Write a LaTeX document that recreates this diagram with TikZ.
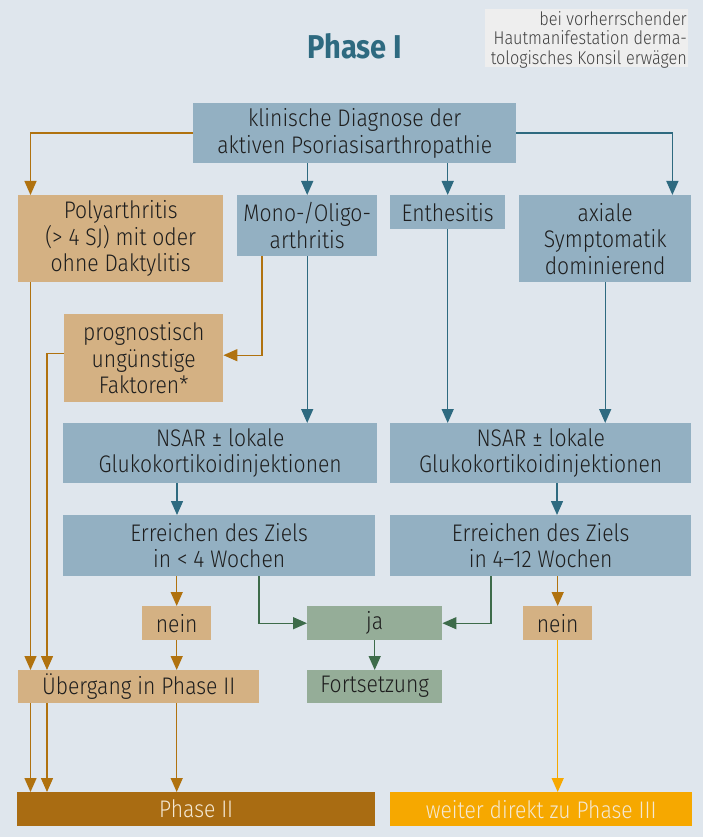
\documentclass[tikz,border=0pt]{standalone}
\usepackage{fontspec}
\setmainfont{Fira Sans}[UprightFont=* Light, BoldFont=* Bold, FakeStretch=0.88]
\usetikzlibrary{arrows.meta}

\definecolor{bgblue}{HTML}{DFE6ED}
\definecolor{boxblue}{HTML}{93B0C2}
\definecolor{boxtan}{HTML}{D4B183}
\definecolor{boxgreen}{HTML}{95AD98}
\definecolor{notegrey}{HTML}{EEEEEE}
\definecolor{textdark}{HTML}{1E1E1E}
\definecolor{tealline}{HTML}{2E6A80}
\definecolor{ochreline}{HTML}{B0720F}
\definecolor{greenline}{HTML}{3D6B4A}
\definecolor{phasetwo}{HTML}{A96C12}
\definecolor{phasethree}{HTML}{F6A800}
\definecolor{lighttext}{HTML}{F4E8D2}

\tikzset{
  box/.style={anchor=north west, inner sep=0pt, align=center, text=textdark,
    font=\fontsize{24}{26.5}\selectfont},
  bluebox/.style={box, fill=boxblue},
  tanbox/.style={box, fill=boxtan},
  greenbox/.style={box, fill=boxgreen},
  conn/.style={line width=1.4pt, -{Triangle[width=12pt,length=14pt]}},
  tealarr/.style={conn, draw=tealline},
  ochrearr/.style={conn, draw=ochreline},
  greenarr/.style={conn, draw=greenline},
  yellowarr/.style={conn, draw=phasethree}
}

\begin{document}
\begin{tikzpicture}[x=1pt,y=-1pt]
\useasboundingbox (0,0) rectangle (703,837);
\fill[bgblue] (0,0) rectangle (703,837);

% title and note
\node[font=\fontsize{33}{36}\selectfont\bfseries, text=tealline] (title) at (355,46) {Phase I};
\node[anchor=north west, fill=notegrey, minimum width=203pt, minimum height=58pt,
  inner sep=0pt] (notebox) at (485,9) {};
\node[anchor=north east, align=right, inner sep=0pt, text=textdark!85,
  font=\fontsize{18.5}{19.5}\selectfont] (note) at (687,11)
  {bei vorherrschender\\Hautmanifestation derma-\\tologisches Konsil erwägen};

% boxes
\node[bluebox, minimum width=323pt, minimum height=60pt] (diag) at (193,103)
  {klinische Diagnose der\\aktiven Psoriasisarthropathie};
\node[tanbox, minimum width=205pt, minimum height=87pt] (poly) at (18,195)
  {Polyarthritis\\(> 4 SJ) mit oder\\ohne Daktylitis};
\node[bluebox, minimum width=140pt, minimum height=61pt] (mono) at (237,195)
  {Mono-/Oligo-\\arthritis};
\node[bluebox, minimum width=115pt, minimum height=34pt] (enth) at (390,195)
  {Enthesitis};
\node[bluebox, minimum width=172pt, minimum height=87pt] (axial) at (519,195)
  {axiale\\Symptomatik\\dominierend};
\node[tanbox, minimum width=159pt, minimum height=88pt] (prog) at (64,314)
  {prognostisch\\ungünstige\\Faktoren*};
\node[bluebox, minimum width=314pt, minimum height=60pt] (nsarL) at (63,423)
  {NSAR ± lokale\\Glukokortikoidinjektionen};
\node[bluebox, minimum width=301pt, minimum height=60pt] (nsarR) at (390,423)
  {NSAR ± lokale\\Glukokortikoidinjektionen};
\node[bluebox, minimum width=312pt, minimum height=61pt] (errL) at (63,515)
  {Erreichen des Ziels\\in < 4 Wochen};
\node[bluebox, minimum width=301pt, minimum height=61pt] (errR) at (390,515)
  {Erreichen des Ziels\\in 4–12 Wochen};
\node[tanbox, minimum width=69pt, minimum height=34pt] (neinL) at (142,606) {nein};
\node[greenbox, minimum width=135pt, minimum height=34pt] (ja) at (307,606) {ja};
\node[tanbox, minimum width=69pt, minimum height=34pt] (neinR) at (523,606) {nein};
\node[tanbox, minimum width=241pt, minimum height=33pt] (ueb) at (18,670)
  {Übergang in Phase II};
\node[greenbox, minimum width=135pt, minimum height=33pt] (fort) at (307,670)
  {Fortsetzung};
\node[box, fill=phasetwo, text=lighttext, minimum width=358pt, minimum height=34pt]
  (phaseII) at (17,792) {Phase II};
\node[box, fill=phasethree, text=lighttext, minimum width=302pt, minimum height=34pt]
  (phaseIII) at (390,792) {weiter direkt zu Phase III};

% connectors
\draw[ochrearr] (diag.west) -| ([xshift=12.5pt]poly.north west);
\draw[tealarr] (diag.east) -| ([xshift=-19pt]axial.north east);
\draw[tealarr] (diag.south -| mono.north) -- (mono.north);
\draw[tealarr] (diag.south -| enth.north) -- (enth.north);
\draw[ochrearr] ([xshift=25pt]mono.south west) |- ([yshift=3pt]prog.east);
\draw[tealarr] (mono.south) -- (mono.south |- nsarL.north);
\draw[tealarr] (enth.south) -- (enth.south |- nsarR.north);
\draw[tealarr] (axial.south) -- (axial.south |- nsarR.north);
\draw[tealarr] ([xshift=114pt]nsarL.south west) -- ([xshift=114pt]errL.north west);
\draw[tealarr] ([xshift=167pt]nsarR.south west) -- ([xshift=167pt]errR.north west);
\draw[ochrearr] (neinL.north |- errL.south) -- (neinL.north);
\draw[greenarr] ([xshift=196pt]errL.south west) |- (ja.west);
\draw[greenarr] ([xshift=101pt]errR.south west) |- (ja.east);
\draw[ochrearr] (neinR.north |- errR.south) -- (neinR.north);
\draw[greenarr] (ja.south) -- (fort.north);
\draw[ochrearr] ([xshift=12.5pt]poly.south west) -- ([xshift=12.5pt]ueb.north west);
\draw[ochrearr] ([yshift=5pt]prog.west) -| ([xshift=29pt]ueb.north west);
\draw[ochrearr] (neinL.south) -- (neinL.south |- ueb.north);
\draw[ochrearr] ([xshift=12.5pt]ueb.south west) -- ([xshift=13.5pt]phaseII.north west);
\draw[ochrearr] ([xshift=29pt]ueb.south west) -- ([xshift=30pt]phaseII.north west);
\draw[ochrearr] (neinL.south |- ueb.south) -- (neinL.south |- phaseII.north);
\draw[yellowarr] (neinR.south) -- (neinR.south |- phaseIII.north);
\end{tikzpicture}
\end{document}
